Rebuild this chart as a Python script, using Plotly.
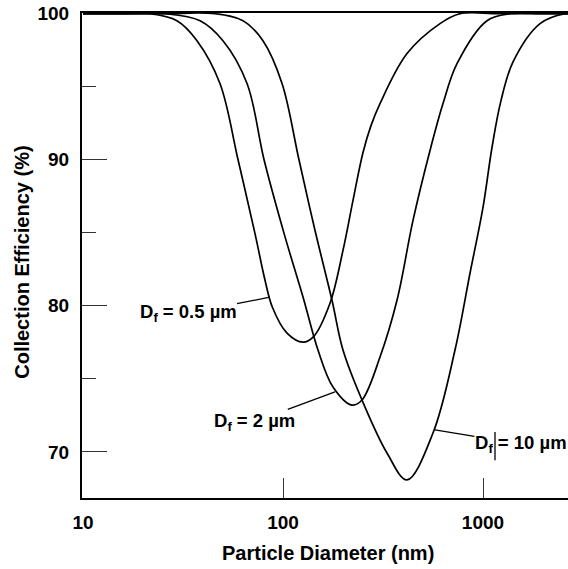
import math
import plotly.graph_objects as go

# ---- data ----
d_05 = [10, 16, 21.6, 29.5, 37.15, 48.4, 59.6, 72.4, 81.3, 88.5, 104.7, 125.9, 141.3, 171.8, 199.5,
        223.9, 251.2, 275.4, 305.5, 416.9, 609.5, 767.4, 1200, 2700]
e_05 = [100, 100, 100, 99.52, 98.15, 95.22, 90, 84.96, 81.75, 79.9, 78.13, 77.51, 77.85, 80.18, 83.8,
        87.22, 90.5, 92.34, 93.85, 97.27, 99.32, 100, 100, 100]

d_2 = [10, 18, 25.7, 38.5, 50.1, 66.1, 80.4, 101.2, 125.9, 149.6, 177.8, 221.3, 248.3, 305.5, 371.5, 446.7,
       543.3, 631, 741.3, 1047, 1365, 2000, 2700]
e_2 = [100, 100, 100, 99.52, 98.15, 95.22, 90, 84.96, 80.6, 76.97, 74.44, 73.2, 73.55, 76.49, 80.38, 85.85,
       90.64, 93.85, 96.58, 99.52, 100, 100, 100]

d_10 = [10, 25, 45.7, 63.1, 79.4, 98.9, 120.2, 144.5, 175.8, 199.5, 248.3, 331.1, 416.9, 562.3, 724.4,
        861, 1000, 1109, 1230, 1413, 1928, 2570, 2700]
e_10 = [100, 100, 100, 99.52, 98.15, 95.22, 90, 85.17, 80.38, 76.97, 73.55, 69.92, 68.08, 71.29, 76.97,
        82.23, 86.74, 90.84, 94.05, 96.7, 99.32, 100, 100]

x_ticks = [10, 100, 1000]
x_ticktext = ["10", "100", "1000"]
y_major = [70, 80, 90, 100]
y_minor = [75, 85, 95]

labels = ["D<sub>f</sub> = 0.5 µm", "D<sub>f</sub> = 2 µm", "D<sub>f</sub> = 10 µm"]
# points on curves where leader lines touch
label_pts = [(86.1, 80.59), (182, 74.1), (575, 71.5)]
label_offsets = [(-82, 16), (-81, 30), (86, 14)]

FONT = "Liberation Sans, Arial, sans-serif"

fig = go.Figure()
for d, e in [(d_05, e_05), (d_2, e_2), (d_10, e_10)]:
    fig.add_trace(go.Scatter(x=d, y=e, mode="lines",
                             line=dict(color="black", width=1.7, shape="spline", smoothing=1.0),
                             showlegend=False, hoverinfo="skip"))

for txt, (px, py), (ax, ay) in zip(labels, label_pts, label_offsets):
    fig.add_annotation(x=math.log10(px), y=py, xref="x", yref="y", text=txt,
                       showarrow=True, arrowhead=0, arrowwidth=1.3, arrowcolor="black",
                       ax=ax, ay=ay, font=dict(family=FONT, size=18.5, color="black", weight="bold"),
                       borderpad=0)

# axis titles
fig.add_annotation(text="Collection Efficiency (%)", xref="paper", yref="paper",
                   x=-0.1235, y=0.487, xanchor="center", yanchor="middle", showarrow=False, textangle=-90,
                   font=dict(family=FONT, size=20, color="black", weight="bold"))
fig.add_annotation(text="Particle Diameter (nm)", xref="paper", yref="paper",
                   x=0.506, y=-0.113, xanchor="center", yanchor="middle", showarrow=False,
                   font=dict(family=FONT, size=20, color="black", weight="bold"))

# small vertical stroke seen inside the 10 µm label
fig.add_shape(type="line", xref="paper", yref="paper", x0=0.8498, x1=0.8498, y0=0.078, y1=0.136,
              line=dict(color="black", width=1.3))

fig.update_xaxes(type="log", range=[0.995, 3.425], tickvals=x_ticks, ticktext=x_ticktext,
                 ticks="inside", ticklen=20, tickwidth=1.3, tickcolor="#333",
                 showline=True, linewidth=2.2, linecolor="black", mirror=True,
                 showgrid=False, zeroline=False, ticklabelstandoff=6,
                 tickfont=dict(family=FONT, size=19, color="black", weight="bold"))
fig.update_yaxes(range=[66.84, 100.05], tickvals=y_major,
                 ticks="inside", ticklen=25, tickwidth=1.3, tickcolor="#333",
                 minor=dict(tickvals=y_minor, ticks="inside", ticklen=14, tickwidth=1.3, tickcolor="#333"),
                 showline=True, linewidth=2.2, linecolor="black", mirror=False,
                 showgrid=False, zeroline=False, ticklabelstandoff=7,
                 tickfont=dict(family=FONT, size=19, color="black", weight="bold"))

fig.update_layout(width=568, height=569, margin=dict(l=82, r=0, t=13, b=71),
                  plot_bgcolor="white", paper_bgcolor="white", showlegend=False)

fig.write_html("out.html")
